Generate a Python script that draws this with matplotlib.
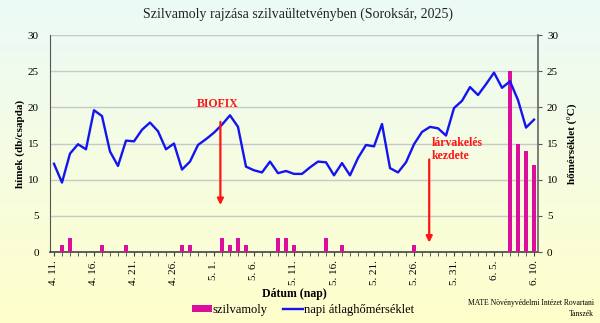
import numpy as np
import pandas as pd
import matplotlib
matplotlib.use("Agg")
import matplotlib.pyplot as plt
from matplotlib.patches import Patch
from matplotlib.lines import Line2D

plt.rcParams['font.family'] = ['Liberation Serif', 'DejaVu Serif']

# Daily observations, 11 April - 10 June 2025
dates = pd.date_range("2025-04-11", "2025-06-10", freq="D")
date_labels = [f"{d.month}. {d.day}." for d in dates]

# Males caught per trap (index = day since 4. 11.)
catch_days = [1, 2, 6, 9, 16, 17, 21, 22, 23, 24, 28, 29, 30, 34, 36, 45, 57, 58, 59, 60]
catch_vals = [1, 2, 1, 1, 1, 1, 2, 1, 2, 1, 2, 2, 1, 2, 1, 1, 25, 15, 14, 12]
males = np.zeros(len(dates))
males[catch_days] = catch_vals

# Daily mean temperature (°C)
temp = [12.2, 9.6, 13.6, 14.9, 14.2, 19.6, 18.8, 13.9, 11.9, 15.4,
        15.3, 16.9, 17.9, 16.7, 14.2, 15.0, 11.4, 12.5, 14.8, 15.6,
        16.5, 17.6, 18.9, 17.3, 11.8, 11.3, 11.0, 12.5, 10.9, 11.2,
        10.8, 10.8, 11.7, 12.5, 12.4, 10.6, 12.3, 10.6, 13.0, 14.8,
        14.6, 17.7, 11.6, 11.0, 12.4, 14.9, 16.6, 17.3, 17.1, 16.1,
        19.9, 20.9, 22.8, 21.7, 23.2, 24.8, 22.7, 23.6, 21.0, 17.2,
        18.3]

bar_color = "#dc0f9c"
line_color = "#1414f0"
red = "#ff1414"

fig = plt.figure(figsize=(6.0, 3.23), dpi=100)

# background gradient: pale mint at the top fading to pale yellow
bg = fig.add_axes([0, 0, 1, 1], zorder=-10)
top = np.array([236, 250, 248]) / 255
bottom = np.array([255, 255, 203]) / 255
t = np.linspace(0, 1, 256)[:, None]
grad = top[None, :] * (1 - t) + bottom[None, :] * t
bg.imshow(grad[:, None, :], aspect="auto", extent=[0, 1, 0, 1])
bg.axis("off")

ax = fig.add_axes([0.0833, 0.2198, 0.8134, 0.6718])
ax.patch.set_alpha(0)
x = np.arange(len(dates))

ax.bar(x, males, width=0.38, color=bar_color, zorder=3)
ax.set_xlim(-0.5, len(dates) - 0.5)
ax.set_ylim(0, 30)
ax.set_yticks(range(0, 31, 5))
ax.yaxis.grid(True, color="#c8c8c8", linewidth=1.0, zorder=0)
ax.set_axisbelow(True)

major = list(range(0, len(dates), 5))
ax.set_xticks(major)
ax.set_xticklabels([date_labels[i] for i in major], rotation=90, fontsize=8)
ax.set_xticks(x, minor=True)
ax.tick_params(axis="x", which="both", direction="out", length=3, color="#444444", pad=3)
ax.tick_params(axis="y", length=0, labelsize=8, pad=8)
for s in ("top", "right"):
    ax.spines[s].set_visible(False)
ax.spines["left"].set_color("#555555")
ax.spines["bottom"].set_color("#444444")
ax.spines["bottom"].set_linewidth(1.2)
ax.set_ylabel("hímek (db/csapda)", fontsize=8, fontweight="bold", labelpad=2)
ax.set_xlabel("Dátum (nap)", fontsize=8.5, fontweight="bold", labelpad=2)

ax2 = ax.twinx()
ax2.plot(x, temp, color=line_color, linewidth=1.7, zorder=4)
ax2.set_ylim(0, 30)
ax2.set_yticks(range(0, 31, 5))
ax2.tick_params(axis="y", direction="out", length=3, color="#555555", labelsize=8)
for s in ("top", "left", "bottom"):
    ax2.spines[s].set_visible(False)
ax2.spines["right"].set_color("#666666")
ax2.spines["right"].set_linewidth(1.2)
ax2.set_ylabel("hőmérséklet (°C)", fontsize=8, fontweight="bold", labelpad=7)

# event markers
ax2.annotate("", xy=(20.8, 6.5), xytext=(20.8, 18.0),
             arrowprops=dict(arrowstyle="-|>", color=red, lw=1.6,
                             mutation_scale=9, shrinkA=0, shrinkB=0), zorder=6)
ax2.text(20.5, 20.4, "BIOFIX", color=red, fontsize=8.5, fontweight="bold",
         ha="center", va="center", zorder=6)
ax2.annotate("", xy=(46.9, 1.3), xytext=(46.9, 12.8),
             arrowprops=dict(arrowstyle="-|>", color=red, lw=1.6,
                             mutation_scale=9, shrinkA=0, shrinkB=0), zorder=6)
ax2.text(47.2, 14.2, "lárvakelés\nkezdete", color=red, fontsize=8.5,
         fontweight="bold", ha="left", va="center", linespacing=1.05, zorder=6)

fig.text(0.497, 0.955, "Szilvamoly rajzása szilvaültetvényben (Soroksár, 2025)",
         ha="center", va="center", fontsize=10, color="#222222")

handles = [Patch(facecolor=bar_color, edgecolor="none"),
           Line2D([0], [0], color=line_color, linewidth=1.7)]
fig.legend(handles, ["szilvamoly", "napi átlaghőmérséklet"], loc="center",
           bbox_to_anchor=(0.505, 0.04), ncol=2, frameon=False, fontsize=9,
           handlelength=1.6, handleheight=0.45, handletextpad=0.1, columnspacing=1.2)

fig.text(0.99, 0.045, "MATE Növényvédelmi Intézet Rovartani\nTanszék",
         ha="right", va="center", fontsize=5.5, linespacing=1.4, multialignment="right")

fig.savefig("out.png", dpi=100)
